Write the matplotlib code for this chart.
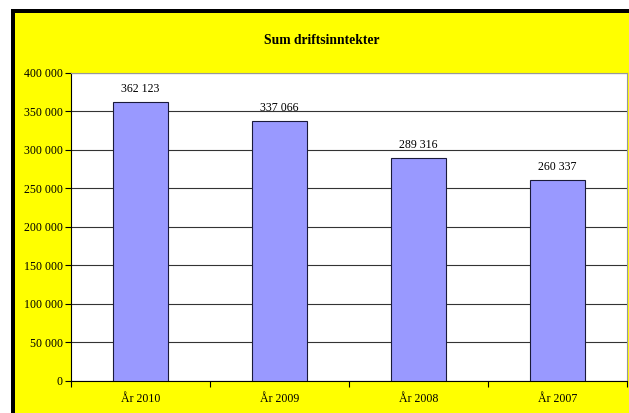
import matplotlib.pyplot as plt
from matplotlib.patches import Rectangle
import numpy as np

categories = ['År 2010', 'År 2009', 'År 2008', 'År 2007']
values = [362123, 337066, 289316, 260337]
yticks = [0, 50000, 100000, 150000, 200000, 250000, 300000, 350000, 400000]

def fmt(v):
    return '{:,}'.format(v).replace(',', ' ')

plt.rcParams['font.family'] = ['Liberation Serif', 'DejaVu Serif']

fig = plt.figure(figsize=(6.29, 4.13), dpi=100, facecolor='white')
W, H = 629, 413
# black frame and yellow chart area
fig.patches.append(Rectangle((11 / W, 0), 1, (H - 9) / H, transform=fig.transFigure,
                             facecolor='black', edgecolor='none', zorder=-2))
fig.patches.append(Rectangle((15 / W, 0), 1, (H - 13) / H, transform=fig.transFigure,
                             facecolor='#FFFF00', edgecolor='none', zorder=-1))

ax = fig.add_axes([71 / W, (H - 380.7) / H, 556 / W, 308 / H])
ax.set_zorder(1)
ax.set_facecolor('white')

x = np.arange(len(categories))
ax.bar(x, values, width=0.4, color='#9999FF', edgecolor='#1a1a3a', linewidth=0.8, zorder=3)
for xi, v in zip(x, values):
    ax.text(xi, v + 9000, fmt(v), ha='center', va='bottom', fontsize=8.6)

ax.set_xlim(-0.5, len(categories) - 0.5)
ax.set_ylim(0, 400000)
ax.set_yticks(yticks)
ax.set_yticklabels([fmt(v) for v in yticks], fontsize=8.6)
ax.yaxis.grid(True, color='#333333', linewidth=0.8, zorder=0)

ax.set_xticks(np.arange(-0.5, len(categories), 1.0))
ax.set_xticklabels([])
ax.set_xticks(x, minor=True)
ax.set_xticklabels(categories, minor=True, fontsize=8.6)
ax.tick_params(axis='x', which='minor', length=0, pad=9)
ax.tick_params(axis='x', which='major', length=4, width=0.8)
ax.tick_params(axis='y', length=4, width=0.8, pad=2)

for s in ['top', 'right']:
    ax.spines[s].set_color('#999999')
    ax.spines[s].set_linewidth(0.8)
for s in ['left', 'bottom']:
    ax.spines[s].set_color('black')
    ax.spines[s].set_linewidth(0.8)

fig.text(0.5 + 7 / W, (H - 40) / H, 'Sum driftsinntekter', ha='center', va='center',
         fontsize=9.8, fontweight='bold', zorder=2)

plt.savefig('out.png', dpi=100, facecolor=fig.get_facecolor())
